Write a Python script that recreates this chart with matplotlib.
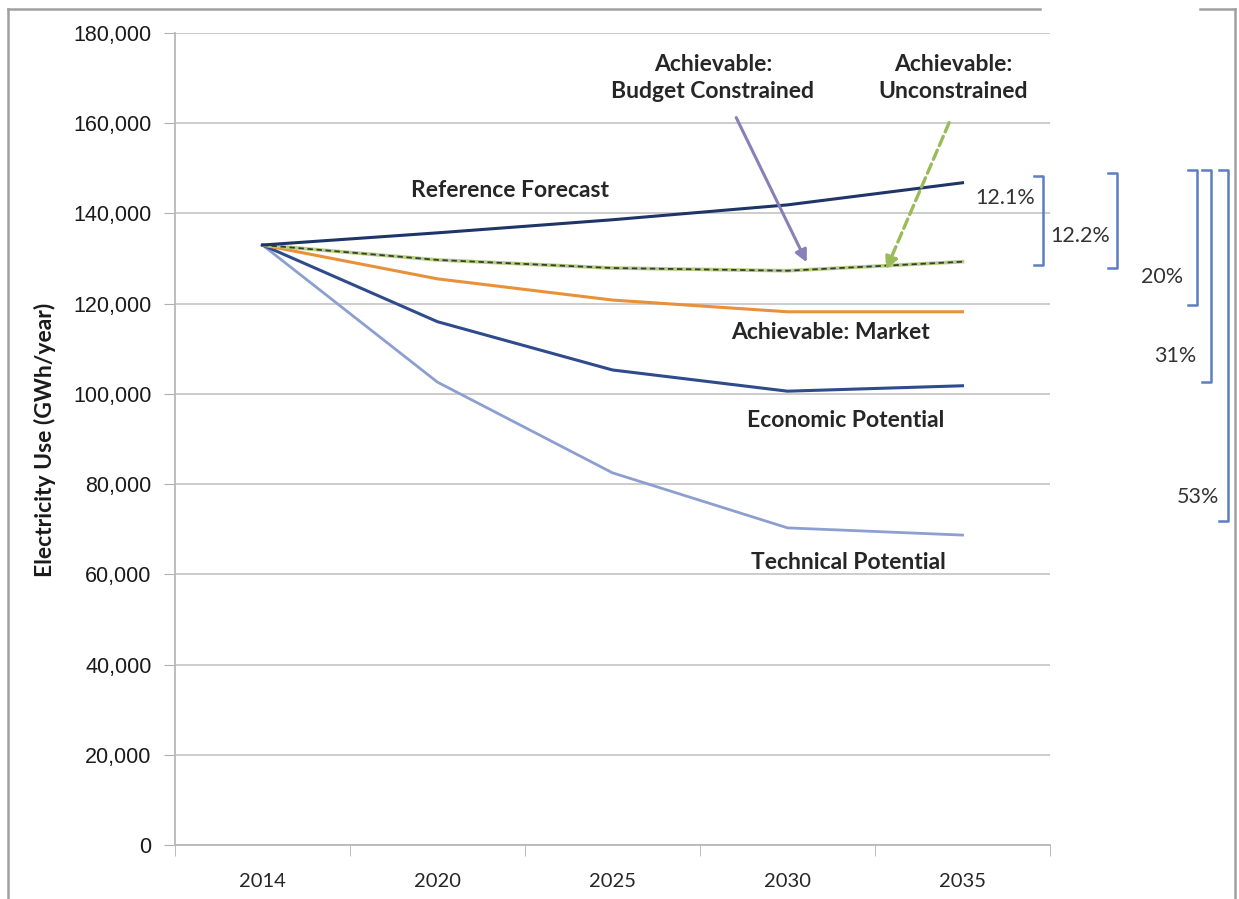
import numpy as np
from matplotlib import pyplot as plt
from matplotlib.lines import Line2D

# data (GWh/year)
years = ['2014', '2020', '2025', '2030', '2035']
reference = [133000, 135700, 138600, 141900, 146800]
achievable = [133000, 129700, 127900, 127300, 129300]
market = [133000, 125500, 120800, 118200, 118200]
economic = [133000, 116000, 105300, 100600, 101800]
technical = [133000, 102600, 82500, 70300, 68700]

# savings brackets: (top, bottom, label)
brackets = [
  (148300, 128600, '12.1%'),
  (149000, 127900, '12.2%'),
  (149600, 119700, '20%'),
  (149600, 102600, '31%'),
  (149600, 71800, '53%'),
]

W, H = 1239, 899
fig = plt.figure(figsize=(W / 100, H / 100), dpi=100)
ax = fig.add_axes([175 / W, (H - 845) / H, 875 / W, 812 / H])

x = np.arange(len(years))
lab = ['Lato', 'DejaVu Sans']
txtc = '#262626'

ax.plot(x, technical, color='#8c9fcf', lw=2.0)
ax.plot(x, economic, color='#2f4b8c', lw=2.2)
ax.plot(x, market, color='#e8913a', lw=2.2)
ax.plot(x, achievable, color='#b5cf80', lw=2.6)
ax.plot(x, achievable, color='#3a3a3a', lw=1.3, dashes=(3, 2))
ax.plot(x, reference, color='#1f3568', lw=2.2)

ax.set_xlim(-0.5, 4.5)
ax.set_ylim(0, 180000)
ax.set_yticks(np.arange(0, 180001, 20000))
ax.set_yticklabels([f'{v:,}' for v in range(0, 180001, 20000)],
                   family=['Liberation Sans'], fontsize=15.5, color='#1a1a1a')
ax.set_xticks(x)
ax.set_xticklabels(years, family=lab, fontsize=14.5, color=txtc)
ax.set_xticks(np.arange(-0.5, 4.6, 1), minor=True)
ax.tick_params(axis='x', which='major', length=0, pad=20)
ax.tick_params(axis='x', which='minor', length=8, color='#b0b0b0', direction='out')
ax.tick_params(axis='y', length=8, color='#b0b0b0', pad=9)
ax.grid(axis='y', color='#c8c8c8', lw=1.3)
ax.set_axisbelow(True)
for s in ['top', 'right']:
  ax.spines[s].set_visible(False)
for s in ['left', 'bottom']:
  ax.spines[s].set_color('#b8b8b8')
  ax.spines[s].set_linewidth(1.3)

# series labels
bold = dict(family=lab, fontsize=16.5, fontweight='bold', color=txtc,
            ha='center', va='center')
ax.text(1.414, 145000, 'Reference Forecast', **bold)
ax.text(2.574, 170000, 'Achievable:\nBudget Constrained', linespacing=1.35, **bold)
ax.text(3.946, 170000, 'Achievable:\nUnconstrained', linespacing=1.35, **bold)
ax.text(3.243, 113500, 'Achievable: Market', **bold)
ax.text(3.33, 94200, 'Economic Potential', **bold)
ax.text(3.346, 62700, 'Technical Potential', **bold)

# arrows
ax.annotate('', xy=(3.117, 128600), xytext=(2.70, 161800),
            arrowprops=dict(arrowstyle='-|>', color='#8a80b8', lw=2.2,
                            mutation_scale=18))
ax.annotate('', xy=(3.557, 127000), xytext=(3.93, 160700),
            arrowprops=dict(arrowstyle='-|>', color='#9bbb59', lw=2.4,
                            linestyle=(0, (3, 1.5)), mutation_scale=18))

# brackets on the right
bx = [4.46, 4.883, 5.34, 5.42, 5.517]
lx = [4.243, 4.671, 5.14, 5.214, 5.346]
ly = [143400, 135000, 125900, 108400, 77200]
for (top, bot, s), xb, xl, yl in zip(brackets, bx, lx, ly):
  ax.plot([xb - 0.05, xb, xb, xb - 0.05], [top, top, bot, bot],
          color='#5b7fbf', lw=1.8, clip_on=False)
  ax.text(xl, yl, s, family=lab, fontsize=15.5, color='#333333',
          ha='center', va='center')

fig.text(45 / W, 1 - 440 / H, 'Electricity Use (GWh/year)', family=lab,
         fontsize=16.5, fontweight='bold', rotation=90, ha='center',
         va='center', color='#1a1a1a')

# outer frame of the screenshot
fc = '#a0a0a0'
fig.add_artist(Line2D([8 / W, 8 / W], [0, 1 - 9 / H], color=fc, lw=1.8))
fig.add_artist(Line2D([8 / W, 1040 / W], [1 - 9 / H, 1 - 9 / H], color=fc, lw=1.8))
fig.add_artist(Line2D([1200 / W, 1235 / W], [1 - 9 / H, 1 - 9 / H], color=fc, lw=1.8))
fig.add_artist(Line2D([1235 / W, 1235 / W], [0, 1 - 9 / H], color=fc, lw=1.8))

fig.savefig('out.png', dpi=100)
